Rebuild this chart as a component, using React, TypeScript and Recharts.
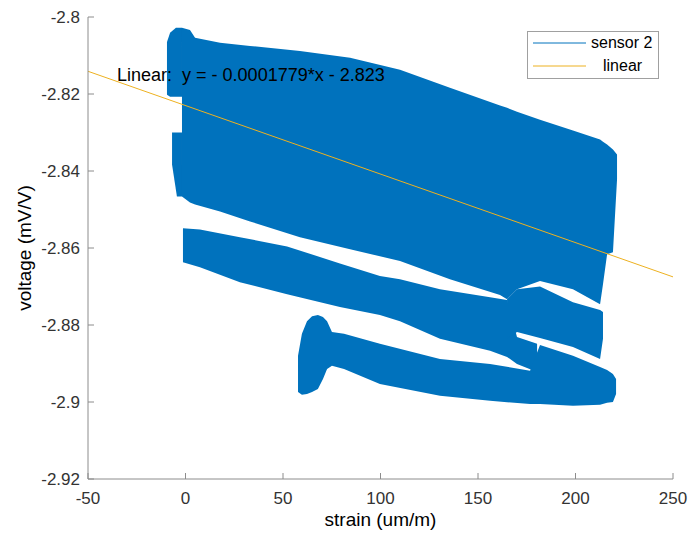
import { ComposedChart, Area, Line, XAxis, YAxis, Legend, ReferenceDot, Label } from 'recharts'

const BLUE = '#0072BD'
const YELLOW = '#EDB120'
const AXIS = '#8c8c8c'
const TEXT = '#333333'

// 读图得到的数据包络：每一条带给出 strain 及上下沿 voltage
// band A — 最上面的大块
const bandAStrain = [-1.8, 2.3, 4.9, 17.7, 33.1, 58.7, 84.4, 110.0, 135.6, 161.3, 164.9, 170.0, 181.8, 198.7, 212.6, 214.1, 216.2, 219.2, 221.3]
const bandATop = [-2.8028, -2.8034, -2.8054, -2.8067, -2.8075, -2.8088, -2.8106, -2.8137, -2.8184, -2.8230, -2.8236, -2.8246, -2.8267, -2.8295, -2.8318, -2.8324, -2.8331, -2.8344, -2.8357]
const bandABottom = [-2.8466, -2.8482, -2.8487, -2.8505, -2.8531, -2.8572, -2.8603, -2.8634, -2.8681, -2.8722, -2.8733, -2.8707, -2.8686, -2.8707, -2.8746, -2.8694, -2.8616, -2.8611, -2.8422]

// 左侧两个小凸起
const lobeUpStrain = [-9.5, -7.9, -4.9, -1.8]
const lobeUpTop = [-2.8065, -2.8041, -2.8028, -2.8028]
const lobeUpBottom = [-2.8202, -2.8207, -2.8207, -2.8207]
const lobeLowStrain = [-6.9, -4.4, -1.8]
const lobeLowTop = [-2.8300, -2.8300, -2.8300]
const lobeLowBottom = [-2.8383, -2.8466, -2.8466]

// band B — 中间斜带
const bandBStrain = [-1.3, 7.4, 27.9, 52.1, 79.2, 99.7, 110.0, 130.5, 156.2, 164.9, 170.0, 180.3]
const bandBTop = [-2.8549, -2.8552, -2.8572, -2.8596, -2.8640, -2.8673, -2.8681, -2.8707, -2.8728, -2.8735, -2.8831, -2.8849]
const bandBBottom = [-2.8637, -2.8650, -2.8689, -2.8720, -2.8753, -2.8774, -2.8790, -2.8836, -2.8867, -2.8883, -2.8901, -2.8922]

// band C — 右侧中间短带
const bandCStrain = [164.9, 170.0, 181.8, 198.7, 212.6, 214.1]
const bandCTop = [-2.8733, -2.8707, -2.8700, -2.8741, -2.8761, -2.8766]
const bandCBottom = [-2.8836, -2.8818, -2.8834, -2.8857, -2.8888, -2.8836]

// band D — 最下面的 T 形带
const bandDStrain = [57.7, 59.7, 62.3, 64.9, 67.9, 70.5, 72.6, 75.1, 81.3, 99.7, 130.5, 156.2, 176.7, 181.8, 198.7, 212.6, 216.2, 219.2, 220.8]
const bandDTop = [-2.8880, -2.8823, -2.8790, -2.8777, -2.8774, -2.8779, -2.8790, -2.8818, -2.8823, -2.8849, -2.8888, -2.8901, -2.8919, -2.8852, -2.8880, -2.8909, -2.8917, -2.8927, -2.8940]
const bandDBottom = [-2.8974, -2.8981, -2.8979, -2.8974, -2.8966, -2.8940, -2.8914, -2.8906, -2.8914, -2.8953, -2.8984, -2.8997, -2.9005, -2.9005, -2.9010, -2.9007, -2.9002, -2.9000, -2.8979]

// 线性拟合 y = -0.0001779*x - 2.823
const fitStrain = [-50, 250]
const fitVoltage = [-2.8141, -2.8675]

const xTicks = [-50, 0, 50, 100, 150, 200, 250]
const yTicks = [-2.92, -2.9, -2.88, -2.86, -2.84, -2.82, -2.8]
const legendNames = ['sensor 2', 'linear']
const legendColors = [BLUE, YELLOW]
const fitText = 'Linear:  y = - 0.0001779*x - 2.823'

const toRows = (xs: number[], top: number[], bottom: number[]) =>
  xs.map((x, i) => ({ strain: x, band: [bottom[i], top[i]] }))

const bands = [
  toRows(lobeUpStrain, lobeUpTop, lobeUpBottom),
  toRows(lobeLowStrain, lobeLowTop, lobeLowBottom),
  toRows(bandAStrain, bandATop, bandABottom),
  toRows(bandBStrain, bandBTop, bandBBottom),
  toRows(bandCStrain, bandCTop, bandCBottom),
  toRows(bandDStrain, bandDTop, bandDBottom),
]
const fitRows = fitStrain.map((x, i) => ({ strain: x, fit: fitVoltage[i] }))

function LegendBox() {
  return (
    <div style={{ position: 'relative', boxSizing: 'border-box', width: 132, height: 48, border: '1px solid #a0a0a0', background: '#fff' }}>
      {legendNames.map((name, i) => (
        <div key={name} style={{ position: 'absolute', left: 5, top: 1 + i * 23, height: 20, display: 'flex', alignItems: 'center' }}>
          <svg width={53} height={4}><line x1={0} x2={53} y1={2} y2={2} stroke={legendColors[i]} strokeWidth={1} /></svg>
          <span style={{ marginLeft: i === 0 ? 5 : 17, fontSize: 16, color: '#000', lineHeight: '20px' }}>{name}</span>
        </div>
      ))}
    </div>
  )
}

export default function App() {
  return (
    <div style={{ position: 'absolute', left: 0, top: 0, width: 688, height: 536, background: '#fff', fontFamily: '"Liberation Sans", Arial, sans-serif' }}>
      <ComposedChart width={688} height={536} margin={{ top: 17, right: 15, bottom: 0, left: 0 }}>
        <XAxis
          dataKey="strain" type="number" domain={[-50, 250]} ticks={xTicks} interval={0}
          allowDataOverflow height={57} stroke={AXIS} tickSize={-6} tickMargin={19}
          tick={{ fill: TEXT, fontSize: 17 }}
        >
          <Label value="strain (um/m)" position="insideBottom" offset={10} fill="#000" fontSize={19} />
        </XAxis>
        <XAxis xAxisId="top" orientation="top" dataKey="strain" type="number" domain={[-50, 250]} ticks={xTicks}
          interval={0} height={0} stroke={AXIS} tickSize={-6} tick={false} />
        <YAxis
          type="number" domain={[-2.92, -2.8]} ticks={yTicks} interval={0} allowDataOverflow
          width={88} stroke={AXIS} tickSize={-6} tickMargin={14}
          tick={{ fill: TEXT, fontSize: 17 }}
        >
          <Label
            content={({ viewBox }: any) => {
              const cy = viewBox.y + viewBox.height / 2
              return (
                <text x={31} y={cy} transform={`rotate(-90 31 ${cy})`} textAnchor="middle" fill="#000" fontSize={19}>
                  voltage (mV/V)
                </text>
              )
            }}
          />
        </YAxis>
        <YAxis yAxisId="right" orientation="right" type="number" domain={[-2.92, -2.8]} ticks={yTicks}
          interval={0} width={0} stroke={AXIS} tickSize={-6} tick={false} />
        {bands.map((rows, i) => (
          <Area key={i} data={rows} dataKey="band" type="linear" fill={BLUE} fillOpacity={1}
            stroke="none" isAnimationActive={false} legendType="none" />
        ))}
        <Line data={fitRows} dataKey="fit" type="linear" stroke={YELLOW} strokeWidth={1} dot={false}
          isAnimationActive={false} />
        <ReferenceDot x={-35.1} y={-2.8166} r={0} fill="none" stroke="none"
          label={{
            content: ({ viewBox }: any) => (
              <text x={viewBox.x} y={viewBox.y} fill="#000" fontSize={18} style={{ whiteSpace: 'pre' }}>{fitText}</text>
            ),
          }}
        />
        <Legend layout="horizontal" verticalAlign="middle" align="center"
          wrapperStyle={{ left: 527, top: 31, width: 132, height: 48 }} content={() => <LegendBox />} />
      </ComposedChart>
    </div>
  )
}
